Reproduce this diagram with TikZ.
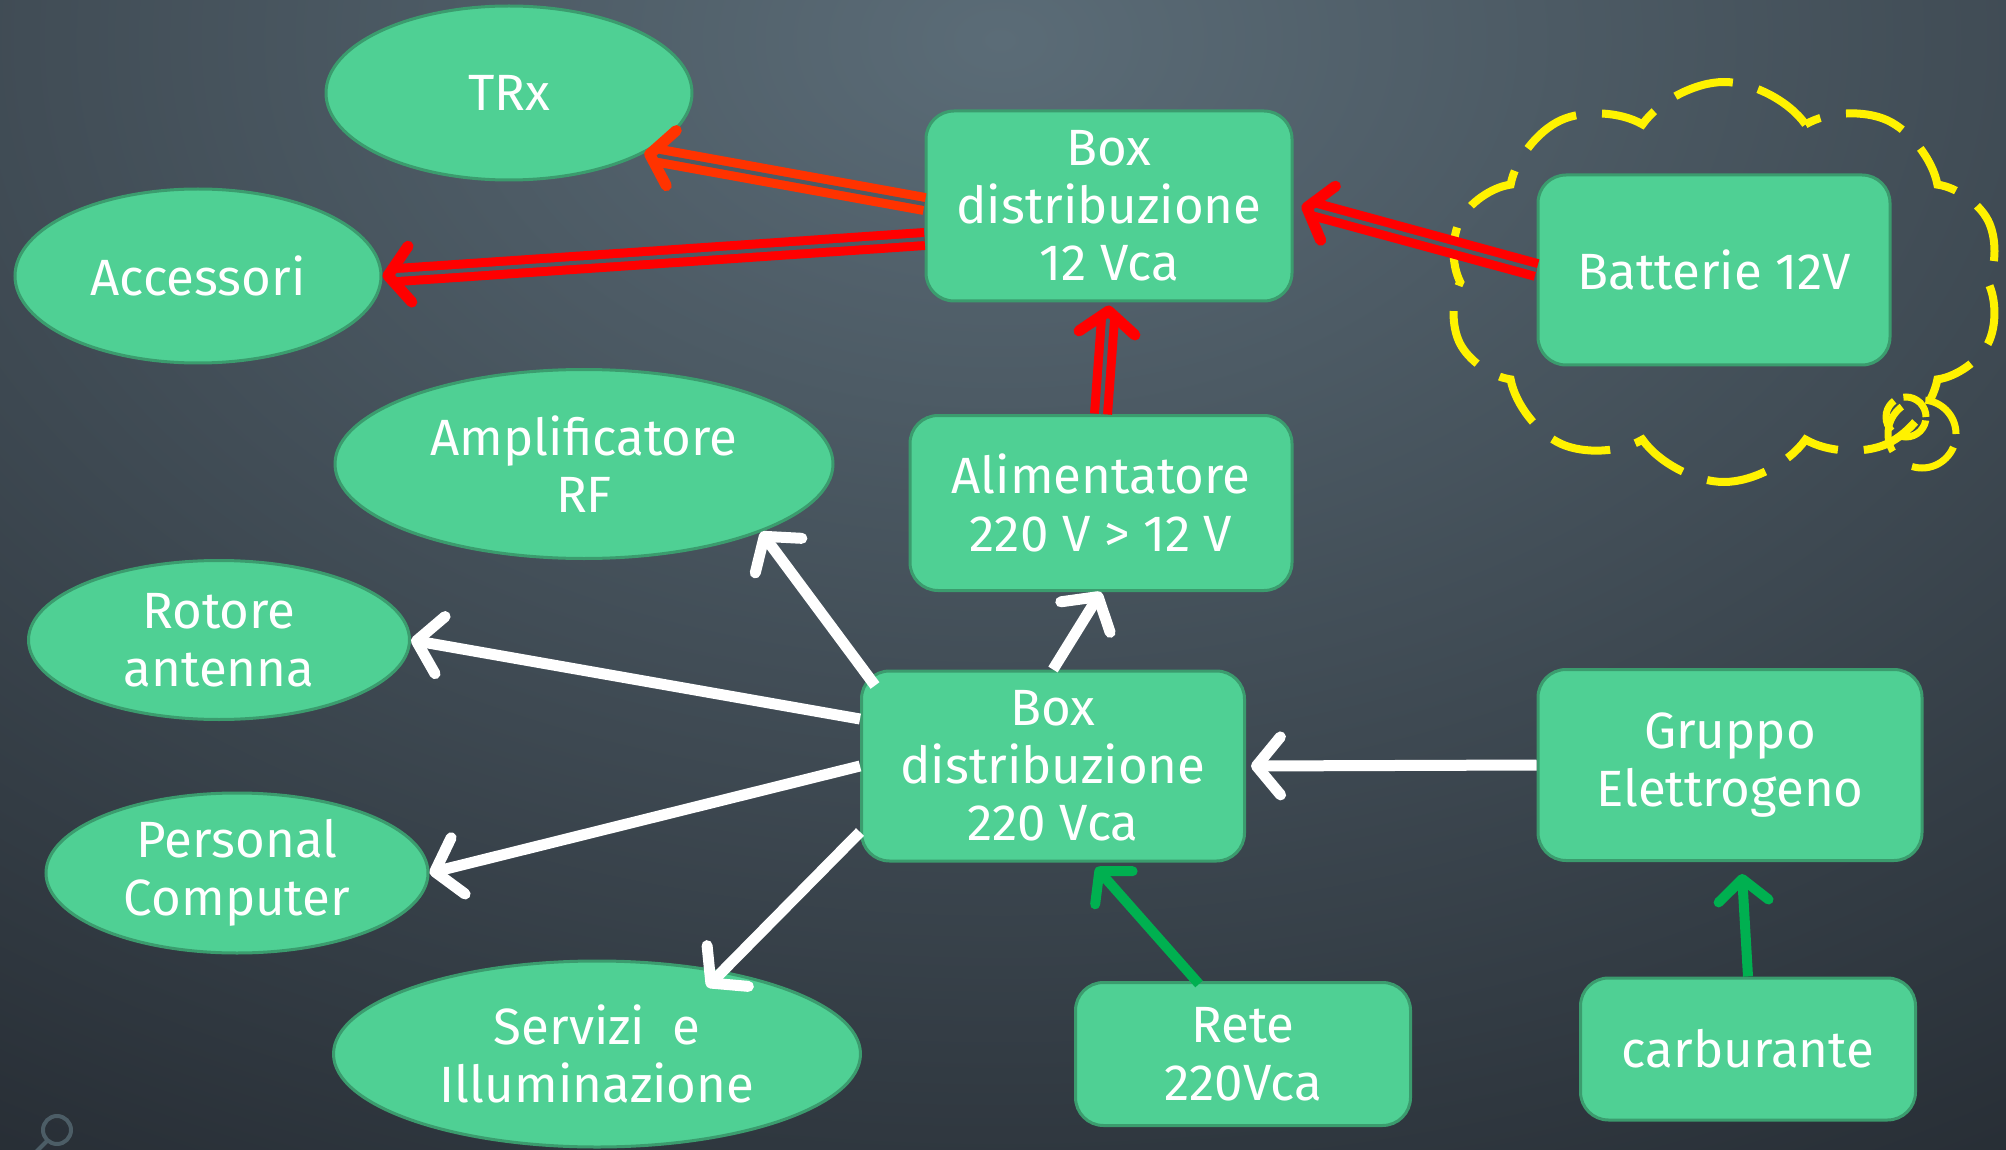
\documentclass[tikz,border=0pt]{standalone}
\usepackage{fontspec}
\setmainfont{Fira Sans}
\usepackage{tikz}
\usetikzlibrary{shapes,arrows.meta,calc}

\definecolor{mint}{HTML}{4FD094}
\definecolor{mintdark}{HTML}{3B9C6E}
\definecolor{slatelight}{HTML}{5B6C77}
\definecolor{slatedark}{HTML}{16191F}
\definecolor{slatemid}{HTML}{4C5B65}
\definecolor{leafgreen}{HTML}{00B050}
\definecolor{redorange}{HTML}{FF3300}
\definecolor{iconcol}{HTML}{4C5D66}

\begin{document}
\begin{tikzpicture}[x=1pt,y=-1pt]
\tikzset{
	box node/.style = {rectangle, rounded corners=28pt, draw=mintdark, line width=3pt, fill=mint, text=white, align=center, inner sep=0pt, font=\fontsize{51}{57.5}\selectfont},
	oval node/.style = {ellipse, draw=mintdark, line width=3pt, fill=mint, text=white, align=center, inner sep=0pt, font=\fontsize{51}{57.5}\selectfont},
	white arrow/.style = {draw=white, line width=11pt, -{Straight Barb[length=24pt,width=58pt,round]}},
	green arrow/.style = {draw=leafgreen, line width=10pt, -{Straight Barb[length=22pt,width=50pt,round]}},
	red arrow/.style = {draw=red, line width=9pt, double=slatemid, double distance=4pt, -{Straight Barb[length=22pt,width=56pt,round,line width=11pt]}},
}
\useasboundingbox (0,0) rectangle (2006,1150);
\begin{scope}
\clip (0,0) rectangle (2006,1150);
\fill[slatedark] (0,0) rectangle (2006,1150);
\shade[inner color=slatelight, outer color=slatedark] (1000,40) ellipse [x radius=2600pt, y radius=1750pt];
\end{scope}

\draw[iconcol, line width=4pt] (57,1130) circle (14pt);
\draw[iconcol, line width=4pt, line cap=round] (47,1141) -- (36,1152);

\node(cloud)[cloud, cloud puffs=10, cloud puff arc=110, aspect=1.4, draw=yellow, line width=8pt, dash pattern=on 60pt off 26pt, minimum width=555pt, minimum height=400pt] at (1724,282) {};
\draw[yellow, line width=7pt, dash pattern=on 34pt off 10pt] (1906,417) circle (20pt);
\draw[yellow, line width=7pt, dash pattern=on 50pt off 25pt] (1922,434) circle (34pt);

\node(trx)[oval node, minimum width=366pt, minimum height=174pt] at (509,93) {TRx};
\node(acc)[oval node, minimum width=366pt, minimum height=174pt] at (198,276) {Accessori};
\node(amp)[oval node, minimum width=498pt, minimum height=189pt] at (584,464) {Amplificatore\\RF};
\node(rot)[oval node, minimum width=381pt, minimum height=159pt] at (219,640) {Rotore\\antenna};
\node(pc)[oval node, minimum width=382pt, minimum height=160pt] at (237,873) {Personal\\Computer};
\node(serv)[oval node, minimum width=527pt, minimum height=186pt] at (597,1054) {Servizi\ \ e\\Illuminazione};

\node(box12)[box node, minimum width=366pt, minimum height=190pt] at (1109,206) {Box\\distribuzione\\12 Vca};
\node(batt)[box node, minimum width=352pt, minimum height=190pt] at (1714,270) {Batterie 12V};
\node(alim)[box node, minimum width=382pt, minimum height=175pt] at (1101,503) {Alimentatore\\220 V > 12 V};
\node(box220)[box node, minimum width=383pt, minimum height=190pt] at (1053,766) {Box\\distribuzione\\220 Vca};
\node(grp)[box node, minimum width=384pt, minimum height=191pt] at (1730,765) {Gruppo\\Elettrogeno};
\node(rete)[box node, minimum width=335pt, minimum height=143pt] at (1243,1054) {Rete\\220Vca};
\node(carb)[box node, minimum width=335pt, minimum height=142pt] at (1748,1049) {carburante};

\draw[red arrow, draw=redorange] ($(box12.west)+(0,-2)$) -- (trx.-24);
\draw[red arrow] ($(box12.west)+(0,33)$) -- (acc.east);
\draw[red arrow] (batt.west) -- ($(box12.east)+(8,0)$);
\draw[red arrow] (alim.north) -- ($(box12.south)+(0,3)$);

\draw[white arrow] ($(box220.north west)+(15,16)$) -- (amp.-21);
\draw[white arrow] ($(box220.west)+(0,-47)$) -- (rot.east);
\draw[white arrow] (box220.west) -- (pc.east);
\draw[white arrow] ($(box220.west)+(0,66)$) -- ($(serv.center)+(110,-67)$);
\draw[white arrow] (box220.north) -- (alim.south);
\draw[white arrow] (grp.west) -- ($(box220.east)+(5,0)$);

\draw[green arrow] ($(rete.north)+(-44,3)$) -- ($(box220.south)+(43,5)$);
\draw[green arrow] (carb.north) -- ($(grp.south)+(12,12)$);

\end{tikzpicture}
\end{document}
